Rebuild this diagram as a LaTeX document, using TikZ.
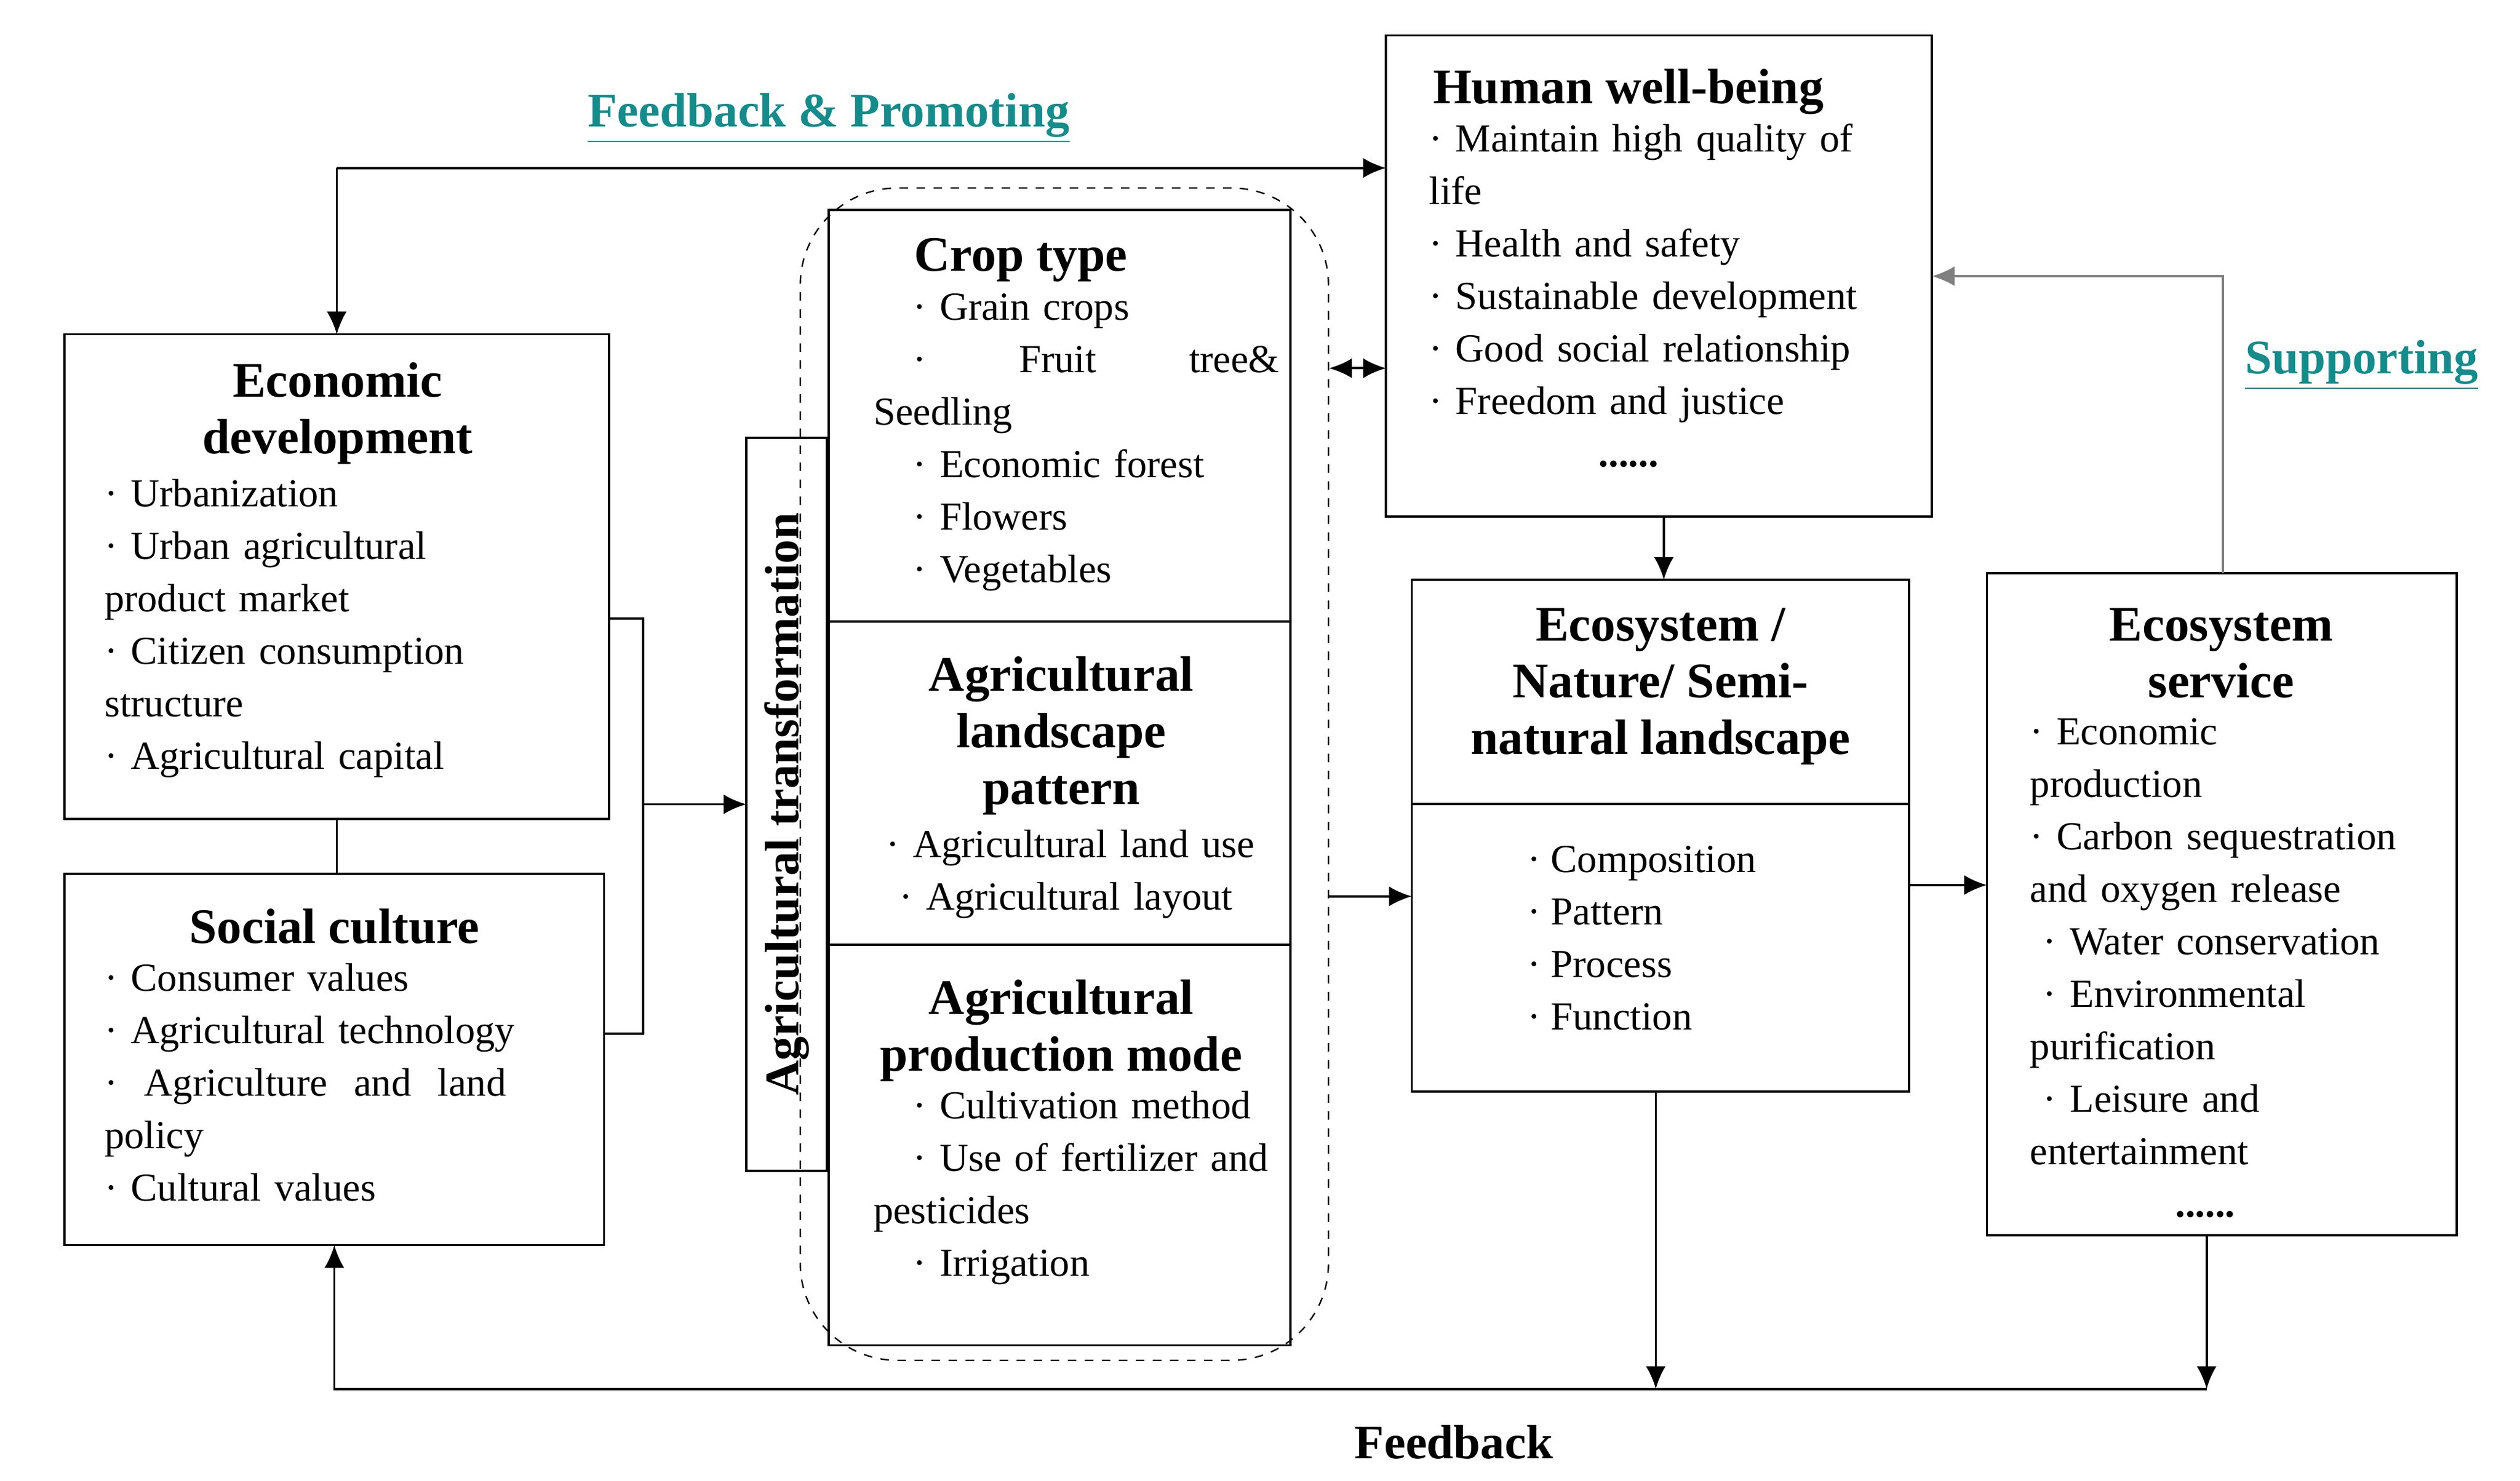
\documentclass[tikz,border=0pt]{standalone}
\usepackage{fontspec}
\setmainfont{Liberation Serif}
\usetikzlibrary{positioning}
\usetikzlibrary{calc}
\usetikzlibrary{arrows.meta}
\usepackage{xcolor}
\definecolor{teal1}{RGB}{20,140,140}
\newcommand{\bt}{\textperiodcentered\ }
\begin{document}
\begin{tikzpicture}[x=0.02cm, y=-0.02cm, >={Latex[length=8pt,width=7pt]}, line width=0.8pt,
        box/.style={draw, inner sep=0pt, outer sep=0pt, anchor=north west},
        ttl/.style={font=\fontsize{17.5}{20}\selectfont\bfseries, align=center, anchor=north},
        txt/.style={font=\fontsize{14}{18.5}\selectfont, align=left, anchor=north west, inner sep=0pt},
        lbl/.style={font=\fontsize{17}{20}\selectfont\bfseries}]
            \useasboundingbox (0,0) rectangle (1560,917);
            % boxes
            \node [box, minimum width=6.74cm, minimum height=6cm] (econ) at (40,207) {};
            \node [box, minimum width=6.68cm, minimum height=4.6cm] (soc) at (40,541) {};
            \node [box, minimum width=1cm, minimum height=9.08cm] (trans) at (462,271) {};
            \node [draw, dashed, line width=0.5pt, rounded corners=1.2cm, inner sep=0pt, minimum width=6.54cm, minimum height=14.52cm, anchor=north west] (group) at (495,116) {};
            \node [box, minimum width=5.72cm, minimum height=5.1cm] (crop) at (513,130) {};
            \node [box, minimum width=5.72cm, minimum height=4cm] (land) at (513,385) {};
            \node [box, minimum width=5.72cm, minimum height=4.96cm] (prod) at (513,585) {};
            \node [box, minimum width=6.76cm, minimum height=5.96cm] (human) at (858,22) {};
            \node [box, minimum width=6.16cm, minimum height=2.78cm] (eco) at (874,359) {};
            \node [box, minimum width=6.16cm, minimum height=3.56cm] (ecobot) at (874,498) {};
            \node [box, minimum width=5.82cm, minimum height=8.2cm] (serv) at (1230,355) {};

            % texts
            \node [ttl] (econt) at (209,218) {Economic\\development};
            \node [txt, text width=6.2cm] at (64,296) {\bt Urbanization\\\bt Urban agricultural\\product market\\\bt Citizen consumption\\structure\\\bt Agricultural capital};
            \node [ttl] (soct) at (207,556) {Social culture};
            \node [txt, text width=6.2cm] at (64,596) {\bt Consumer values\\\bt Agricultural technology\\\bt \ Agriculture \ and \ land\\policy\\\bt Cultural values};
            \node [font=\fontsize{17}{20}\selectfont\bfseries, rotate=90] (transt) at (trans.center) {Agricultural transformation};
            \node [ttl] (cropt) at (632,141) {Crop type};
            \node [txt, text width=5.4cm] at (540,181) {\quad\bt Grain crops\\\quad\bt \qquad Fruit \qquad tree\&\\Seedling\\\quad\bt Economic forest\\\quad\bt Flowers\\\quad\bt Vegetables};
            \node [ttl] (landt) at (657,400) {Agricultural\\landscape\\pattern};
            \node [txt, text width=5.4cm] at (548,513) {\bt Agricultural land use\\\ \bt Agricultural layout};
            \node [ttl] (prodt) at (657,600) {Agricultural\\production mode};
            \node [txt, text width=5.4cm] at (540,675) {\quad\bt Cultivation method\\\quad\bt Use of fertilizer and\\pesticides\\\quad\bt Irrigation};
            \node [ttl] (humant) at (1008,36) {Human well-being};
            \node [txt, text width=6.4cm] at (884,76) {\bt Maintain high quality of\\life\\\bt Health and safety\\\bt Sustainable development\\\bt Good social relationship\\\bt Freedom and justice\\\hspace{2.1cm}\textbf{......}};
            \node [ttl] (ecot) at (1028,370) {Ecosystem /\\Nature/ Semi-\\natural landscape};
            \node [txt] at (945,523) {\bt Composition\\\bt Pattern\\\bt Process\\\bt Function};
            \node [ttl] (servt) at (1375,370) {Ecosystem\\service};
            \node [txt, text width=5.4cm] at (1256,444) {\bt Economic\\production\\\bt Carbon sequestration\\and oxygen release\\\ \bt Water conservation\\\ \bt Environmental\\purification\\\ \bt Leisure and\\entertainment\\\hspace{1.8cm}\textbf{......}};

            % labels
            \node [lbl, text=teal1] (fbp) at (513,73) {\underline{Feedback \& Promoting}};
            \node [lbl, text=teal1] (sup) at (1462,226) {\underline{Supporting}};
            \node [lbl] (fb) at (900,893) {Feedback};

            % connectors
            \coordinate (topl) at (econ.north |- 0,104);
            \draw [->] (topl) -- (econ.north);
            \draw [->] (topl) -- (human.west |- topl);
            \draw (econ.south) -- (econ.south |- soc.north);
            \coordinate (br) at (398,498);
            \draw (econ.east |- 0,383) -| (br) |- (soc.east |- 0,640);
            \draw [->] (br) -- (trans.west |- br);
            \draw [<->] (group.east |- 0,228) -- (human.west |- 0,228);
            \draw [->] (human.south -| 1030,0) -- (eco.north -| 1030,0);
            \draw [->] (group.east |- 0,555) -- (ecobot.west |- 0,555);
            \draw [->] (ecobot.east |- 0,548) -- (serv.west |- 0,548);
            \draw [->, gray] (serv.north -| 1376,0) |- (human.east |- 0,171);
            \coordinate (bl) at (soc.south |- 0,860);
            \draw [->] (ecobot.south -| 1025,0) -- (1025,860);
            \draw [->] (serv.south -| 1366,0) -- (1366,860);
            \draw [->] (1366,860) -- (bl) -- (soc.south);
\end{tikzpicture}
\end{document}
